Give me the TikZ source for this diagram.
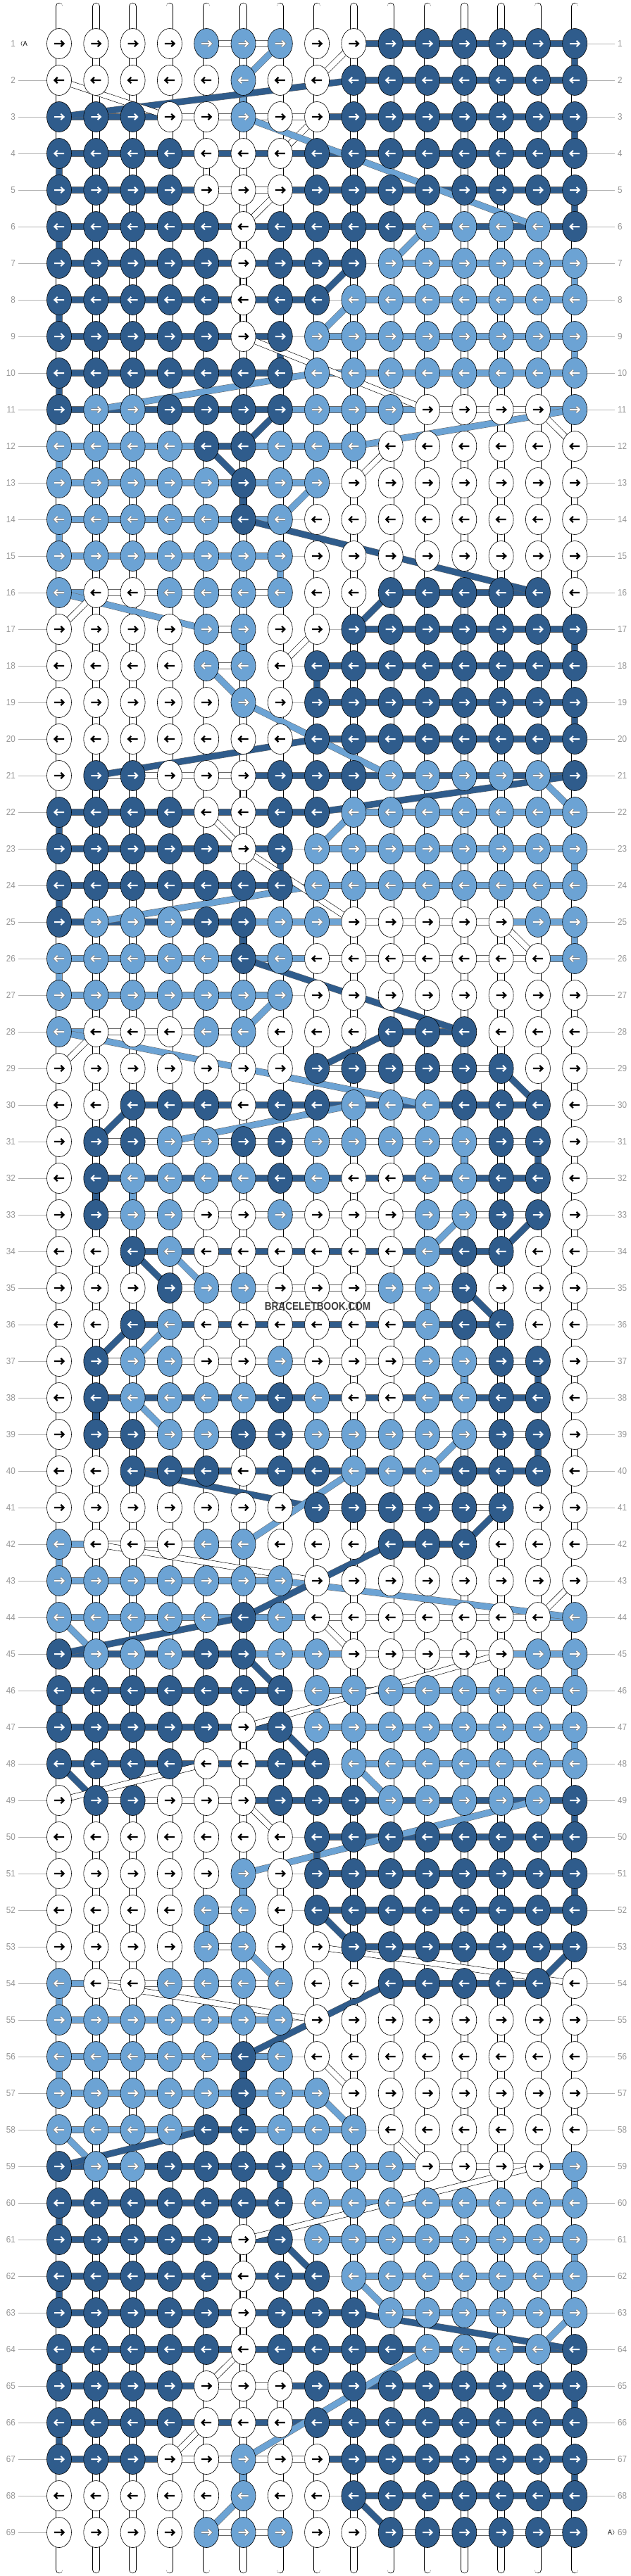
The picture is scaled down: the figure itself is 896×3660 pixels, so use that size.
\documentclass[tikz,border=0pt]{standalone}
\usepackage{fontspec}
\setmainfont{Liberation Sans}
\newfontfamily\numfont[FakeStretch=0.9]{Liberation Sans}
\newfontfamily\brandfont[FakeStretch=0.85]{Liberation Sans}
\usetikzlibrary{positioning}
\usetikzlibrary{shapes.geometric}

\definecolor{knotW}{RGB}{255,255,255}
\definecolor{knotL}{RGB}{108,163,212}
\definecolor{knotD}{RGB}{47,92,140}
\definecolor{guidegray}{RGB}{178,178,178}
\definecolor{numgray}{RGB}{150,150,150}
\definecolor{brandgray}{RGB}{60,60,60}

\pgfdeclarelayer{strands}
\pgfdeclarelayer{bars}
\pgfdeclarelayer{links}
\pgfsetlayers{strands,bars,links,main}

% last row / column in which each thread colour was tied
\def\prowL{0}\def\pcolL{0}
\def\prowD{0}\def\pcolD{0}
\def\prowW{0}\def\pcolW{0}

\newcommand\handlethread[1]{%
  \edef\tmin{\csname min#1\endcsname}%
  \edef\tmax{\csname max#1\endcsname}%
  \ifnum\tmin>0\relax
    \ifodd\r\relax \let\tfirst\tmin \let\tlast\tmax
    \else \let\tfirst\tmax \let\tlast\tmin \fi
    \edef\tprow{\csname prow#1\endcsname}%
    \edef\tpcol{\csname pcol#1\endcsname}%
    \ifnum\tprow>0\relax
      \begin{pgfonlayer}{links}
        \draw[thread#1] (k-\tprow-\tpcol.center) -- (k-\r-\tfirst.center);
      \end{pgfonlayer}%
    \fi
    \ifnum\tmin<\tmax\relax
      \begin{pgfonlayer}{bars}
        \draw[thread#1] (k-\r-\tmin.center) -- (k-\r-\tmax.center);
      \end{pgfonlayer}%
    \fi
    \expandafter\xdef\csname prow#1\endcsname{\r}%
    \expandafter\xdef\csname pcol#1\endcsname{\tlast}%
  \fi}

\begin{document}
\begin{tikzpicture}[x=1pt,y=-1pt,
    knot/.style={ellipse, draw=black, line width=0.6pt, minimum width=35pt, minimum height=43pt, inner sep=0pt},
    basestrand/.style={draw=black, line width=0.7pt, double=white, double distance=9pt, line cap=round},
    threadW/.style={draw=black, line width=0.6pt, double=knotW, double distance=7.5pt},
    threadL/.style={draw=black!60, line width=0.5pt, double=knotL, double distance=8.5pt},
    threadD/.style={draw=black!60, line width=0.5pt, double=knotD, double distance=8.5pt},
    guideline/.style={draw=guidegray, line width=0.8pt},
    rownum/.style={font=\numfont\fontsize{13}{13}\selectfont, text=numgray, inner sep=0pt},
    blackarrow/.pic={\draw[line width=2.2pt, black] (-7,0) -- (6,0) (2.3,-4.2) -- (6.6,0) -- (2.3,4.2);},
    edgedarrow/.pic={\draw[line width=3.4pt, black!50] (-7,0) -- (6,0) (2.3,-4.2) -- (6.6,0) -- (2.3,4.2);
                     \draw[line width=1.8pt, white] (-7,0) -- (6,0) (2.3,-4.2) -- (6.6,0) -- (2.3,4.2);},
    whitearrow/.pic={\draw[line width=2pt, white] (-7,0) -- (6,0) (2.3,-4.2) -- (6.6,0) -- (2.3,4.2);}]
\useasboundingbox (0,0) rectangle (896,3660);

% base strings
\foreach \c in {1,...,15} {
    \coordinate (top-\c) at ({84+52.3*(\c-1)},9);
    \coordinate (bot-\c) at ({84+52.3*(\c-1)},3651);
    \begin{pgfonlayer}{strands}
        \draw[basestrand] (top-\c) -- (bot-\c);
    \end{pgfonlayer}
}

% knots, row by row
\foreach \pat [count=\r] in {
    {W,W,W,W,L,L,L,W,W,D,D,D,D,D,D},
    {W,W,W,W,W,L,W,W,D,D,D,D,D,D,D},
    {D,D,D,W,W,L,W,W,D,D,D,D,D,D,D},
    {D,D,D,D,W,W,W,D,D,D,D,D,D,D,D},
    {D,D,D,D,W,W,W,D,D,D,D,D,D,D,D},
    {D,D,D,D,D,W,D,D,D,D,L,L,L,L,D},
    {D,D,D,D,D,W,D,D,D,L,L,L,L,L,L},
    {D,D,D,D,D,W,D,D,L,L,L,L,L,L,L},
    {D,D,D,D,D,W,D,L,L,L,L,L,L,L,L},
    {D,D,D,D,D,D,D,L,L,L,L,L,L,L,L},
    {D,L,L,D,D,D,D,L,L,L,W,W,W,W,L},
    {L,L,L,L,D,D,L,L,L,W,W,W,W,W,W},
    {L,L,L,L,L,D,L,L,W,W,W,W,W,W,W},
    {L,L,L,L,L,D,L,W,W,W,W,W,W,W,W},
    {L,L,L,L,L,L,L,W,W,W,W,W,W,W,W},
    {L,W,W,L,L,L,L,W,W,D,D,D,D,D,W},
    {W,W,W,W,L,L,W,W,D,D,D,D,D,D,D},
    {W,W,W,W,L,L,W,D,D,D,D,D,D,D,D},
    {W,W,W,W,W,L,W,D,D,D,D,D,D,D,D},
    {W,W,W,W,W,W,W,D,D,D,D,D,D,D,D},
    {W,D,D,W,W,W,D,D,D,L,L,L,L,L,D},
    {D,D,D,D,W,W,D,D,L,L,L,L,L,L,L},
    {D,D,D,D,D,W,D,L,L,L,L,L,L,L,L},
    {D,D,D,D,D,D,D,L,L,L,L,L,L,L,L},
    {D,L,L,L,D,D,L,L,W,W,W,W,W,L,L},
    {L,L,L,L,L,D,L,W,W,W,W,W,W,W,L},
    {L,L,L,L,L,L,L,W,W,W,W,W,W,W,W},
    {L,W,W,W,L,L,W,W,W,D,D,D,W,W,W},
    {W,W,W,W,W,W,W,D,D,D,D,D,D,W,W},
    {W,W,D,D,D,W,D,D,L,L,L,D,D,D,W},
    {W,D,D,L,L,D,D,L,L,L,L,L,D,D,W},
    {W,D,L,L,L,L,D,L,W,W,L,L,D,D,W},
    {W,D,L,L,W,W,L,W,W,W,L,L,D,D,W},
    {W,W,D,L,W,W,W,W,W,W,L,D,D,W,W},
    {W,W,W,D,L,L,W,W,W,L,L,D,W,W,W},
    {W,W,D,L,W,W,W,W,W,W,L,D,D,W,W},
    {W,D,L,L,W,W,L,W,W,W,L,L,D,D,W},
    {W,D,L,L,L,L,D,L,W,W,L,L,D,D,W},
    {W,D,D,L,L,D,D,L,L,L,L,L,D,D,W},
    {W,W,D,D,D,W,D,D,L,L,L,D,D,D,W},
    {W,W,W,W,W,W,W,D,D,D,D,D,D,W,W},
    {L,W,W,W,L,L,W,W,W,D,D,D,W,W,W},
    {L,L,L,L,L,L,L,W,W,W,W,W,W,W,W},
    {L,L,L,L,L,D,L,W,W,W,W,W,W,W,L},
    {D,L,L,L,D,D,L,L,W,W,W,W,W,L,L},
    {D,D,D,D,D,D,D,L,L,L,L,L,L,L,L},
    {D,D,D,D,D,W,D,L,L,L,L,L,L,L,L},
    {D,D,D,D,W,W,D,D,L,L,L,L,L,L,L},
    {W,D,D,W,W,W,D,D,D,L,L,L,L,L,D},
    {W,W,W,W,W,W,W,D,D,D,D,D,D,D,D},
    {W,W,W,W,W,L,W,D,D,D,D,D,D,D,D},
    {W,W,W,W,L,L,W,D,D,D,D,D,D,D,D},
    {W,W,W,W,L,L,W,W,D,D,D,D,D,D,D},
    {L,W,W,L,L,L,L,W,W,D,D,D,D,D,W},
    {L,L,L,L,L,L,L,W,W,W,W,W,W,W,W},
    {L,L,L,L,L,D,L,W,W,W,W,W,W,W,W},
    {L,L,L,L,L,D,L,L,W,W,W,W,W,W,W},
    {L,L,L,L,D,D,L,L,L,W,W,W,W,W,W},
    {D,L,L,D,D,D,D,L,L,L,W,W,W,W,L},
    {D,D,D,D,D,D,D,L,L,L,L,L,L,L,L},
    {D,D,D,D,D,W,D,L,L,L,L,L,L,L,L},
    {D,D,D,D,D,W,D,D,L,L,L,L,L,L,L},
    {D,D,D,D,D,W,D,D,D,L,L,L,L,L,L},
    {D,D,D,D,D,W,D,D,D,D,L,L,L,L,D},
    {D,D,D,D,W,W,W,D,D,D,D,D,D,D,D},
    {D,D,D,D,W,W,W,D,D,D,D,D,D,D,D},
    {D,D,D,W,W,L,W,W,D,D,D,D,D,D,D},
    {W,W,W,W,W,L,W,W,D,D,D,D,D,D,D},
    {W,W,W,W,L,L,L,W,W,D,D,D,D,D,D}} {
    \gdef\minL{0}\gdef\maxL{0}\gdef\minD{0}\gdef\maxD{0}\gdef\minW{0}\gdef\maxW{0}
    \ifodd\r \gdef\tipflip{1}\else \gdef\tipflip{-1}\fi
    \foreach \k [count=\c] in \pat {
        \ifnum\csname min\k\endcsname=0 \expandafter\xdef\csname min\k\endcsname{\c}\fi
        \expandafter\xdef\csname max\k\endcsname{\c}
        \node[knot, fill=knot\k] (k-\r-\c) at ({84+52.3*(\c-1)},{62+52*(\r-1)}) {};
        \if\k W \pic[xscale=\tipflip] at (k-\r-\c) {blackarrow};
        \else\if\k L \pic[xscale=\tipflip] at (k-\r-\c) {edgedarrow};
        \else \pic[xscale=\tipflip] at (k-\r-\c) {whitearrow}; \fi\fi
    }
    \ifodd\r \handlethread{L}\handlethread{D}\handlethread{W}
    \else \handlethread{L}\handlethread{W}\handlethread{D}\fi
}

% start and end of thread A
\coordinate (startA) at (34,62);
\coordinate (endA) at (868,3598);
\begin{pgfonlayer}{bars}
    \draw[threadD] (k-1-9.center) -- (k-1-10.center);
    \draw[threadW, line cap=round] (startA) -- (k-1-1.center);
    \draw[threadW, line cap=round] (k-69-9.center) -- (endA);
\end{pgfonlayer}
\node[font=\numfont\fontsize{10}{10}\selectfont, inner sep=0pt] (labelA-start) at (36,62) {A};
\node[font=\numfont\fontsize{10}{10}\selectfont, inner sep=0pt] (labelA-end) at (866,3598) {A};

% row numbers
\foreach \r in {1,...,69} {
    \node[rownum, anchor=east] (numl-\r) at (22,{62+52*(\r-1)}) {\r};
    \node[rownum, anchor=west] (numr-\r) at (877,{62+52*(\r-1)}) {\r};
    \begin{pgfonlayer}{strands}
    \ifnum\r=1 \draw[guideline] (k-1-1.center) -- ([xshift=-4pt]numr-1.west);
    \else\ifnum\r=69 \draw[guideline] ([xshift=4pt]numl-69.east) -- (k-69-15.center);
    \else \draw[guideline] ([xshift=4pt]numl-\r.east) -- ([xshift=-4pt]numr-\r.west);
    \fi\fi
    \end{pgfonlayer}
}

\node[font=\brandfont\bfseries\fontsize{16}{16}\selectfont, text=brandgray, inner sep=0pt] (brand) at (451,1856) {BRACELETBOOK.COM};
\end{tikzpicture}
\end{document}
